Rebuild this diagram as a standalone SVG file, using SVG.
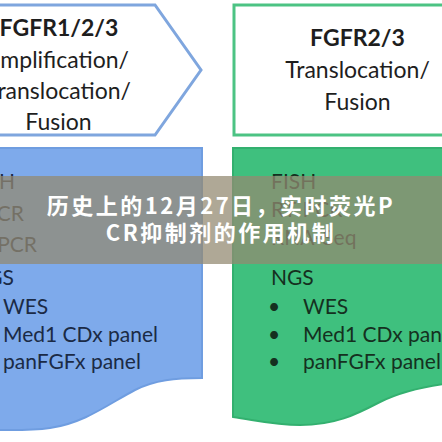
<svg xmlns="http://www.w3.org/2000/svg" width="442" height="442" viewBox="0 0 442 442">
  <style>
    .hd { font-family: Lato, "Open Sans", sans-serif; font-size: 23px; fill: #1e1e1e; }
    .hb { font-weight: bold; }
    .li { font-family: Lato, "Open Sans", sans-serif; font-size: 21px; }
    .lb { fill: #1b2a45; }
    .lg { fill: #15301f; }
    .bn { font-family: "Noto Sans CJK SC", "Noto Sans", sans-serif; font-size: 22px; font-weight: bold; fill: #ffffff; letter-spacing: 2.5px; }
  </style>
  <rect x="0" y="0" width="442" height="442" fill="#ffffff"/>

  <g id="node-left-top">
    <polygon points="-10,5 155,5 201,70 155,135 -10,135" fill="#ffffff" stroke="#7fa6de" stroke-width="3" stroke-linejoin="miter"/>
    <text class="hd hb" x="59" y="36" text-anchor="middle">FGFR1/2/3</text>
    <text class="hd" x="129" y="67.5" text-anchor="end">mplification/</text>
    <text class="hd" x="131" y="99" text-anchor="end">ranslocation/</text>
    <text class="hd" x="58.5" y="130" text-anchor="middle">Fusion</text>
  </g>

  <g id="node-right-top">
    <rect x="234" y="5" width="260" height="130" fill="#ffffff" stroke="#4cc383" stroke-width="3"/>
    <text class="hd hb" x="357.5" y="46" text-anchor="middle">FGFR2/3</text>
    <text class="hd" x="357.5" y="78" text-anchor="middle">Translocation/</text>
    <text class="hd" x="357.5" y="110" text-anchor="middle">Fusion</text>
  </g>

  <g id="node-left-bottom">
    <path d="M -10,148 L 202,148 L 202,378 C 175,378 155,380 135,390 C 110,403 85,423 50,428 C 30,431 10,430 -10,430 Z" fill="#7eaaeb" stroke="#6f9de0" stroke-width="2"/>
    <text class="li lb" x="15" y="189" text-anchor="end">H</text>
    <text class="li lb" x="24" y="221" text-anchor="end">CR</text>
    <text class="li lb" x="37" y="252" text-anchor="end">PCR</text>
    <text class="li lb" x="14" y="285" text-anchor="end">GS</text>
    <text class="li lb" x="3" y="314">WES</text>
    <text class="li lb" x="3" y="342">Med1 CDx panel</text>
    <text class="li lb" x="3" y="369">panFGFx panel</text>
  </g>

  <g id="node-right-bottom">
    <path d="M 233,148 L 460,148 L 460,382 C 430,385 400,392 380,402 C 355,415 335,425 300,425 C 275,425 255,420 233,417 Z" fill="#3fc07e" stroke="#33b06f" stroke-width="2"/>
    <text class="li lg" x="271" y="189">FISH</text>
    <text class="li lg" x="271" y="217">RT-PCR</text>
    <text class="li lg" x="271" y="245">RNA-Seq</text>
    <text class="li lg" x="271" y="285">NGS</text>
    <text class="li lg" x="268" y="314">•</text>
    <text class="li lg" x="303" y="314">WES</text>
    <text class="li lg" x="268" y="342">•</text>
    <text class="li lg" x="303" y="342">Med1 CDx panel</text>
    <text class="li lg" x="268" y="369">•</text>
    <text class="li lg" x="303" y="369">panFGFx panel</text>
  </g>

  <g id="connectors"></g>

  <g id="banner">
    <rect x="0" y="176" width="442" height="88" fill="#938a72" fill-opacity="0.74"/>
    <text class="bn" x="221" y="214" text-anchor="middle">历史上的12月27日，实时荧光P</text>
    <text class="bn" x="221" y="241" text-anchor="middle">CR抑制剂的作用机制</text>
  </g>
</svg>
